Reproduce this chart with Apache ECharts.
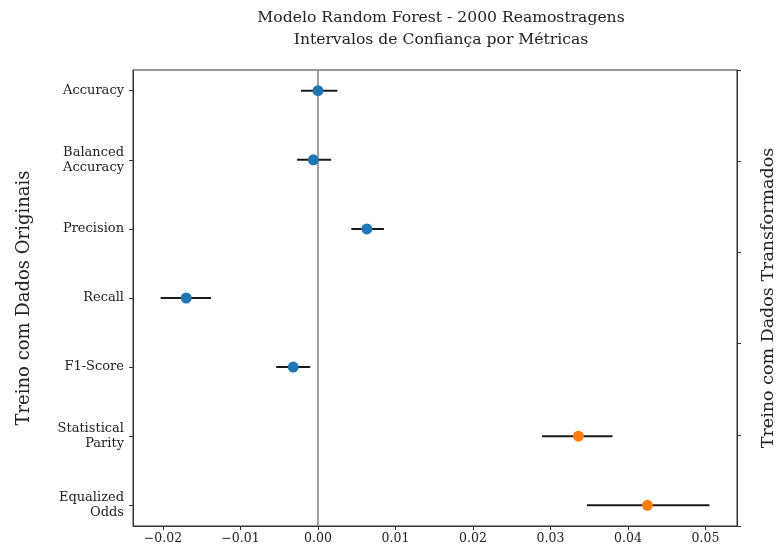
<!DOCTYPE html>
<html>
<head>
<meta charset="utf-8">
<script src="https://cdn.jsdelivr.net/npm/echarts@6/dist/echarts.min.js"></script>
<style>
  html, body { margin: 0; padding: 0; background: #fff; }
  #chart { width: 781px; height: 552px; }
</style>
</head>
<body>
<div id="chart"></div>
<script>
// metric names (top to bottom)
const categories = ['Accuracy', 'Balanced\nAccuracy', 'Precision', 'Recall', 'F1-Score', 'Statistical\nParity', 'Equalized\nOdds'];
// point estimates and confidence bounds
const means = [0.0000, -0.0006, 0.0063, -0.0170, -0.0032, 0.0336, 0.0425];
const lower = [-0.0022, -0.0027, 0.0043, -0.0203, -0.0054, 0.0289, 0.0347];
const upper = [0.0025, 0.0017, 0.0085, -0.0138, -0.0010, 0.0380, 0.0505];
// blue for performance metrics, orange for fairness metrics
const groups = [0, 0, 0, 0, 0, 1, 1];
const xTicks = [-0.02, -0.01, 0.00, 0.01, 0.02, 0.03, 0.04, 0.05];
const rightTicks = [0, 0.2, 0.4, 0.6, 0.8, 1.0];

const FONT = 'DejaVu Serif';
const COLORS = ['#1f77b4', '#ff7f0e'];

const chart = echarts.init(document.getElementById('chart'));

const catIdx = categories.map((c, i) => i);
const barData = catIdx.map(i => [lower[i], upper[i], i]);
const pointData = catIdx.map(i => ({
  value: [means[i], i],
  itemStyle: { color: COLORS[groups[i]], opacity: 1 }
}));

const option = {
  animation: false,
  backgroundColor: '#fff',
  title: {
    text: 'Modelo Random Forest - 2000 Reamostragens\nIntervalos de Confiança por Métricas',
    left: 436,
    textAlign: 'center',
    top: 2,
    textStyle: { fontFamily: FONT, fontSize: 15.6, fontWeight: 'normal', color: '#222', lineHeight: 22 }
  },
  grid: {
    left: 133, right: 44, top: 70, bottom: 26,
    outerBoundsMode: 'none',
    containLabel: false,
    show: true, borderColor: '#333', borderWidth: 1, backgroundColor: 'transparent'
  },
  xAxis: {
    type: 'value',
    min: -0.02387,
    max: 0.05406,
    splitLine: { show: false },
    axisLine: { show: true, onZero: false, lineStyle: { color: '#333', width: 1 } },
    axisTick: { show: true, customValues: xTicks, length: 4, lineStyle: { color: '#333' } },
    axisLabel: {
      customValues: xTicks,
      fontFamily: FONT, fontSize: 12.5, color: '#222', margin: 6,
      formatter: v => (v < 0 ? '\u2212' : '') + Math.abs(v).toFixed(2)
    }
  },
  yAxis: [
    {
      type: 'value',
      min: -0.3,
      max: 6.3,
      inverse: true,
      name: 'Treino com Dados Originais',
      nameLocation: 'middle',
      nameRotate: 90,
      nameGap: 100,
      nameTextStyle: { fontFamily: FONT, fontSize: 18, color: '#222' },
      splitLine: { show: false },
      axisLine: { show: true, onZero: false, lineStyle: { color: '#333' } },
      axisTick: { show: true, customValues: catIdx, length: 4, lineStyle: { color: '#333' } },
      axisLabel: {
        customValues: catIdx,
        fontFamily: FONT, fontSize: 13, color: '#222', margin: 9, lineHeight: 15,
        align: 'right',
        formatter: v => categories[Math.round(v)]
      }
    },
    {
      type: 'value',
      position: 'right',
      min: 0,
      max: 1,
      interval: 0.2,
      name: 'Treino com Dados Transformados',
      nameLocation: 'middle',
      nameRotate: 90,
      nameGap: 22,
      nameTextStyle: { fontFamily: FONT, fontSize: 17.5, color: '#222' },
      splitLine: { show: false },
      axisLine: { show: true, onZero: false, lineStyle: { color: '#333' } },
      axisTick: { show: true, customValues: rightTicks, length: 4, lineStyle: { color: '#333' } },
      axisLabel: { show: false }
    }
  ],
  series: [
    {
      type: 'custom',
      name: 'ci',
      xAxisIndex: 0,
      yAxisIndex: 0,
      z: 2,
      encode: { x: [0, 1], y: 2 },
      data: barData,
      renderItem: function (params, api) {
        const a = api.coord([api.value(0), api.value(2)]);
        const b = api.coord([api.value(1), api.value(2)]);
        return {
          type: 'line',
          shape: { x1: a[0], y1: a[1], x2: b[0], y2: b[1] },
          style: { stroke: '#1a1a1a', lineWidth: 2 }
        };
      },
      markLine: {
        silent: true,
        symbol: 'none',
        z: 1,
        label: { show: false },
        lineStyle: { color: '#808080', width: 1.5, type: 'solid' },
        data: [{ xAxis: 0 }]
      }
    },
    {
      type: 'scatter',
      name: 'mean',
      xAxisIndex: 0,
      yAxisIndex: 0,
      z: 3,
      symbolSize: 11,
      data: pointData
    }
  ]
};

chart.setOption(option);
</script>
</body>
</html>
